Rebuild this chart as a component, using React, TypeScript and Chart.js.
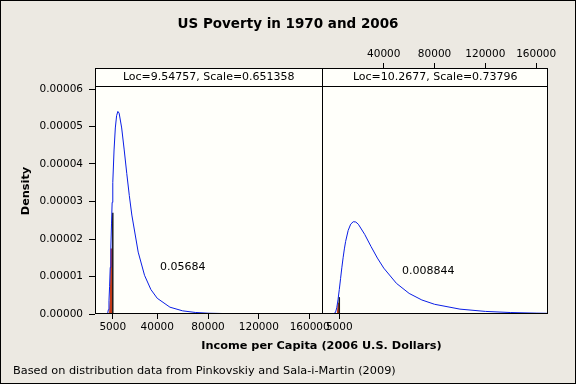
import React, { useEffect, useRef } from 'react';
import { Chart, registerables } from 'chart.js';

Chart.register(...registerables);

// ---------- text ----------
const chartTitle = 'US Poverty in 1970 and 2006';
const panelLabels = ['Loc=9.54757, Scale=0.651358', 'Loc=10.2677, Scale=0.73796'];
const areaLabels = ['0.05684', '0.008844'];
const areaLabelIncome = [60000, 75000];
const areaLabelDensity = [0.0000125, 0.0000115];
const xTitle = 'Income per Capita (2006 U.S. Dollars)';
const yTitle = 'Density';
const footnote = 'Based on distribution data from Pinkovskiy and Sala-i-Martin (2009)';

// ---------- ticks ----------
const bottomTicksLeft = [5000, 40000, 80000, 120000, 160000];
const bottomTicksRight = [5000];
const topTicksRight = [40000, 80000, 120000, 160000];
const yTicks = [0, 0.00001, 0.00002, 0.00003, 0.00004, 0.00005, 0.00006];

// ---------- 1970 panel (left) ----------
const incomeLeft = [0, 1000, 1500, 2000, 2500, 3000, 3500, 4000, 4500, 5000, 6000, 7000, 8000, 9000, 10000,
  12000, 14000, 16000, 18000, 20000, 25000, 30000, 35000, 40000, 50000, 60000, 70000, 80000, 100000, 120000, 169300];
const densityLeft = [0, 0.00000017, 0.00000114, 0.00000352, 0.00000739, 0.00001243, 0.00001813, 0.00002402,
  0.00002977, 0.00003506, 0.00004374, 0.00004961, 0.00005288, 0.00005402, 0.00005356, 0.00004961, 0.00004375,
  0.00003749, 0.0000316, 0.00002638, 0.0000165, 0.00001031, 0.00000652, 0.00000419, 0.00000182, 0.00000084,
  0.00000041, 0.00000021, 0.00000007, 0.00000002, 0];
const shadeIncomeLeft = [2000, 2700, 3200, 5000];
const shadeDensityLeft = [0, 0.000004, 0.0000175, 0.0000175];
const povertyIncome = [5000, 5000];
const povertyLineLeft = [0, 0.000027];

// ---------- 2006 panel (right) ----------
const incomeRight = [0, 2000, 3000, 4000, 5000, 6000, 7000, 8000, 9000, 10000, 12000, 14000, 16000, 18000, 20000,
  25000, 30000, 35000, 40000, 50000, 60000, 70000, 80000, 100000, 120000, 140000, 160000, 169300];
const densityRight = [0, 0.00000039, 0.00000165, 0.00000378, 0.00000649, 0.00000942, 0.00001232, 0.00001499,
  0.00001736, 0.00001936, 0.0000223, 0.00002396, 0.00002461, 0.00002453, 0.00002393, 0.00002123, 0.00001799,
  0.00001491, 0.00001224, 0.00000817, 0.00000549, 0.00000374, 0.00000259, 0.0000013, 0.00000069, 0.00000039,
  0.00000023, 0.00000018];
const shadeIncomeRight = [3000, 3800, 5000];
const shadeDensityRight = [0, 0.000003, 0.000003];
const povertyLineRight = [0, 0.0000045];

// ---------- axis ranges ----------
const X_MIN = -9000;
const X_MAX = 169300;
const OFFSET = X_MAX - X_MIN; // right panel shift
const Y_MAX = 0.0000656;

const FONT = "'DejaVu Sans', Verdana, sans-serif";
const BLUE = '#0A1EE6';
const RED = '#C23A18';
const DARK = '#1A1A1A';

const pts = (xs: number[], ys: number[], shift: number) => xs.map((x, i) => ({ x: x + shift, y: ys[i] }));
const label = (v: number) => String(v > X_MAX ? v - OFFSET : v);

const decor = {
  id: 'decor',
  beforeDraw(chart: any) {
    const { ctx, chartArea: a, width, height } = chart;
    ctx.save();
    ctx.fillStyle = '#ECE9E2';
    ctx.fillRect(0, 0, width, height);
    ctx.fillStyle = '#FFFFFA';
    ctx.fillRect(a.left, a.top, a.right - a.left, a.bottom - a.top);
    ctx.restore();
  },
  afterDraw(chart: any) {
    const { ctx, chartArea: a, width, height, scales } = chart;
    const xs = scales.x;
    const ys = scales.y;
    const div = Math.round(xs.getPixelForValue(X_MAX)) + 0.5;
    const hb = a.top + 18.5;
    ctx.save();
    ctx.strokeStyle = '#000';
    ctx.lineWidth = 1;
    ctx.beginPath();
    ctx.moveTo(a.left, hb); ctx.lineTo(a.right, hb);
    ctx.moveTo(div, a.top); ctx.lineTo(div, a.bottom);
    ctx.stroke();
    ctx.strokeRect(Math.round(a.left) + 0.5, Math.round(a.top) + 0.5, Math.round(a.right - a.left) - 1, Math.round(a.bottom - a.top) - 1);
    ctx.strokeRect(0.5, 0.5, width - 1, height - 1);

    ctx.fillStyle = '#000';
    ctx.textBaseline = 'middle';
    ctx.textAlign = 'center';
    ctx.font = `11px ${FONT}`;
    ctx.fillText(panelLabels[0], (a.left + div) / 2, a.top + 9.5);
    ctx.fillText(panelLabels[1], (div + a.right) / 2, a.top + 9.5);
    ctx.fillText(areaLabels[0], xs.getPixelForValue(areaLabelIncome[0]), ys.getPixelForValue(areaLabelDensity[0]));
    ctx.fillText(areaLabels[1], xs.getPixelForValue(areaLabelIncome[1] + OFFSET), ys.getPixelForValue(areaLabelDensity[1]));

    ctx.font = `bold 13.5px ${FONT}`;
    ctx.fillText(chartTitle, width / 2, 24);

    ctx.textAlign = 'left';
    ctx.font = `11.3px ${FONT}`;
    ctx.fillText(footnote, 13, 371);
    ctx.restore();
  },
};

const tickFont = { family: FONT, size: 10.5 };
const titleFont = { family: FONT, size: 11.3, weight: 'bold' as const };
const tickGrid = (len: number) => ({ drawOnChartArea: false, drawTicks: true, tickLength: len, color: '#000' });

export default function App() {
  const ref = useRef<HTMLCanvasElement>(null);

  useEffect(() => {
    document.body.style.margin = '0';
    const canvas = ref.current;
    if (!canvas) return;
    const shade = { borderWidth: 0, borderColor: RED, backgroundColor: RED, pointRadius: 0, fill: 'origin', order: 2 };
    const marker = { borderWidth: 1.5, borderColor: DARK, pointRadius: 0, fill: false, order: 1 };
    const curve = { borderColor: BLUE, borderWidth: 1, pointRadius: 0, fill: false, order: 0 };
    const chart = new Chart(canvas, {
      type: 'line',
      data: {
        datasets: [
          { ...curve, data: pts(incomeLeft, densityLeft, 0) },
          { ...curve, data: pts(incomeRight, densityRight, OFFSET) },
          { ...marker, data: pts(povertyIncome, povertyLineLeft, 0) },
          { ...marker, data: pts(povertyIncome, povertyLineRight, OFFSET) },
          { ...shade, data: pts(shadeIncomeLeft, shadeDensityLeft, 0) },
          { ...shade, data: pts(shadeIncomeRight, shadeDensityRight, OFFSET) },
        ],
      },
      options: {
        animation: false,
        responsive: false,
        devicePixelRatio: 1,
        layout: { padding: { left: 0, right: 28, top: 0, bottom: 0 } },
        plugins: { legend: { display: false }, tooltip: { enabled: false }, title: { display: false } },
        scales: {
          x: {
            type: 'linear',
            position: 'bottom',
            min: X_MIN,
            max: X_MAX + OFFSET,
            afterBuildTicks: (s: any) => {
              s.ticks = [...bottomTicksLeft, ...bottomTicksRight.map((v) => v + OFFSET)].map((value) => ({ value }));
            },
            afterFit: (s: any) => { s.height = 70; },
            ticks: { callback: (v: any) => label(Number(v)), autoSkip: false, maxRotation: 0, font: tickFont, color: '#000', padding: 2 },
            grid: tickGrid(5),
            border: { display: false },
            title: { display: true, text: xTitle, font: titleFont, color: '#000', padding: { top: 0, bottom: 30.7 } },
          },
          x2: {
            type: 'linear',
            position: 'top',
            min: X_MIN,
            max: X_MAX + OFFSET,
            afterBuildTicks: (s: any) => {
              s.ticks = topTicksRight.map((v) => ({ value: v + OFFSET }));
            },
            afterFit: (s: any) => { s.height = 68; },
            ticks: { callback: (v: any) => label(Number(v)), autoSkip: false, maxRotation: 0, font: tickFont, color: '#000', padding: 2 },
            grid: tickGrid(5),
            border: { display: false },
          },
          y: {
            type: 'linear',
            position: 'left',
            min: 0,
            max: Y_MAX,
            afterBuildTicks: (s: any) => {
              s.ticks = yTicks.map((value) => ({ value }));
            },
            afterFit: (s: any) => { s.width = 95; },
            ticks: { callback: (v: any) => Number(v).toFixed(5), font: tickFont, color: '#000', padding: 6 },
            grid: tickGrid(6),
            border: { display: false },
            title: { display: true, text: yTitle, font: titleFont, color: '#000', padding: { top: 19.2, bottom: 0 } },
          },
        },
      },
      plugins: [decor],
    } as any);
    return () => chart.destroy();
  }, []);

  return (
    <div style={{ width: 576, height: 384 }}>
      <canvas ref={ref} width={576} height={384} style={{ display: 'block' }} />
    </div>
  );
}
